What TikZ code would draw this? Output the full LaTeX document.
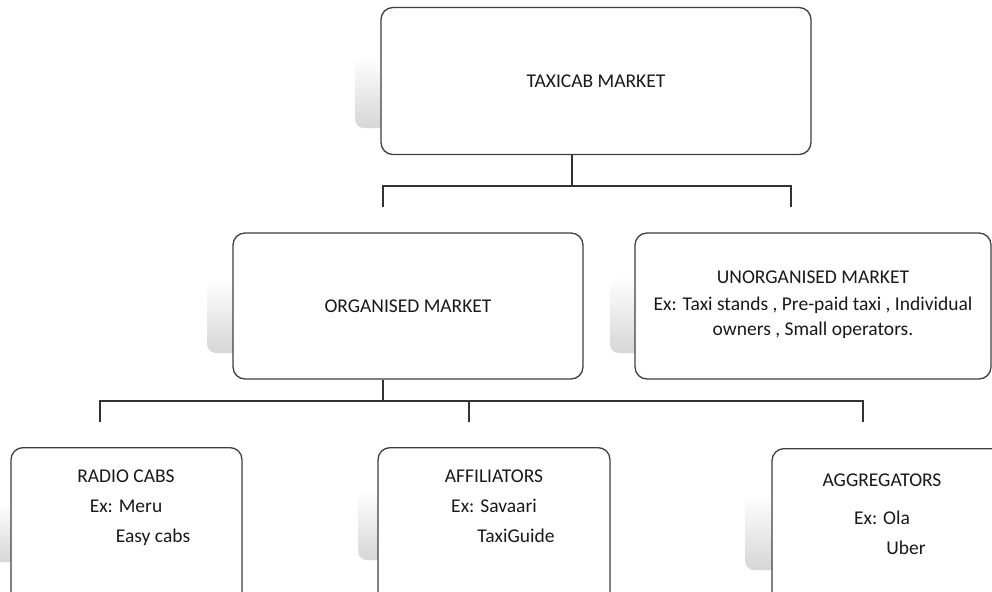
\documentclass[tikz,border=0pt]{standalone}
\usepackage{fontspec}
\setmainfont{Carlito}
\begin{document}
\begin{tikzpicture}[x=1pt, y=-1pt,
    box/.style={draw=black!75, line width=1.3pt, rounded corners=12pt, fill=white, align=center, text=black!90},
    link/.style={draw=black!80, line width=1.2pt},
    shadowbox/.style={top color=white, bottom color=black!16, rounded corners=9pt},
    txt/.style={font=\fontsize{19.5}{30}\selectfont, align=center, text=black!90, anchor=north}]
    \clip (0,0) rectangle (992,591);
    \fill[white] (0,0) rectangle (992,591);

    % Shadows on the left of the boxes
    \shade[shadowbox] (355,57) rectangle (450,128);
    \shade[shadowbox] (207,280) rectangle (300,353);
    \shade[shadowbox] (610,277) rectangle (700,353);
    \shade[shadowbox] (-20,503) rectangle (60,562);
    \shade[shadowbox] (358,490) rectangle (430,560);
    \shade[shadowbox] (745,495) rectangle (820,570);

    % Top level
    \node[box, minimum width=430, minimum height=147, font=\fontsize{19.5}{25}\selectfont] (taxi) at (596,81) {TAXICAB MARKET};

    % Second level
    \node[box, minimum width=350, minimum height=146, font=\fontsize{19.5}{25}\selectfont] (org) at (408,306) {ORGANISED MARKET};
    \node[box, minimum width=356, minimum height=146, font=\fontsize{19.5}{25}\selectfont] (unorg) at (813,306) {};
    \node[txt, font=\fontsize{19.5}{25}\selectfont] (unorgtxt) at (813,267)
        {UNORGANISED MARKET\\[2pt] Ex: Taxi stands , Pre-paid taxi , Individual\\ owners , Small operators.};

    % Third level (boxes run past the lower edge)
    \node[box, minimum width=231, minimum height=180, anchor=north] (radio) at (126.5,447) {};
    \node[box, minimum width=232, minimum height=180, anchor=north] (affil) at (494,447) {};
    \node[box, minimum width=240, minimum height=180, anchor=north] (aggr) at (892,448) {};
    \node[txt] (radiotxt) at (126,466) {RADIO CABS\\ Ex: Meru\\ \hspace*{54pt}Easy cabs};
    \node[txt] (affiltxt) at (494,466) {AFFILIATORS\\ Ex: Savaari\\ \hspace*{44pt}TaxiGuide};
    \node[txt] (aggrtxt) at (882,470) {AGGREGATORS\\[8pt] Ex: Ola\\ \hspace*{48pt}Uber};

    % Connectors from the top box
    \coordinate (topjoin) at (572,186);
    \coordinate (orgdrop) at (383,207);
    \coordinate (unorgdrop) at (791,207);
    \draw[link] (taxi.south -| topjoin) -- (topjoin);
    \draw[link] (orgdrop) |- (topjoin) -| (unorgdrop);

    % Connectors from the organised market
    \coordinate (orgjoin) at (383,401);
    \coordinate (radiodrop) at (100,422);
    \coordinate (affildrop) at (469,422);
    \coordinate (aggrdrop) at (863,422);
    \draw[link] (org.south -| orgjoin) -- (orgjoin);
    \draw[link] (radiodrop) |- (orgjoin) -| (aggrdrop);
    \draw[link] (affildrop) -- (affildrop |- orgjoin);
\end{tikzpicture}
\end{document}
